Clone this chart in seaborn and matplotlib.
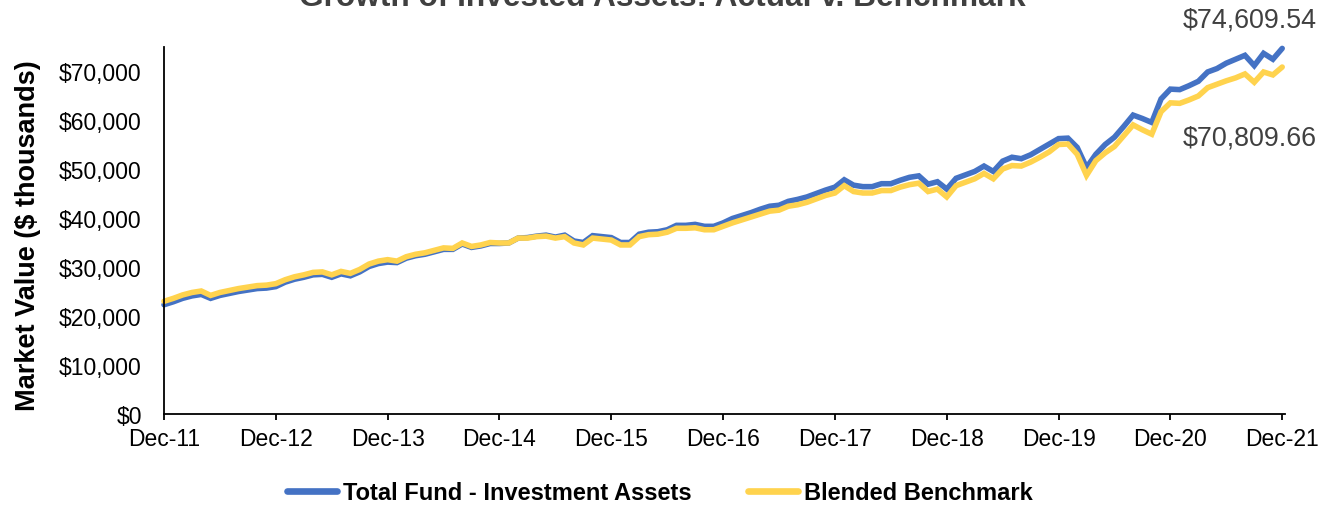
import numpy as np
import pandas as pd
import matplotlib
matplotlib.use("Agg")
import matplotlib.pyplot as plt
import seaborn as sns

# Month-end market values, $ thousands, Dec-2011 through Dec-2021
fund_values = [
    22300, 22900, 23600, 24100, 24400, 23600, 24200, 24600, 25000, 25300, 25600, 25700,
    26000, 26900, 27500, 27900, 28400, 28500, 27900, 28600, 28200, 29000, 30100, 30700,
    31000, 30900, 31800, 32300, 32600, 33100, 33600, 33600, 34700, 34000, 34300, 34800,
    34800, 34900, 35900, 36000, 36300, 36500, 36100, 36500, 35300, 35000, 36400, 36200,
    36000, 35000, 35000, 36700, 37100, 37200, 37600, 38500, 38500, 38700, 38300, 38300,
    39000, 39900, 40500, 41100, 41800, 42400, 42600, 43400, 43800, 44300, 45000, 45700,
    46300, 47800, 46700, 46400, 46400, 47000, 47000, 47700, 48300, 48600, 46900, 47400,
    45900, 48100, 48800, 49500, 50600, 49500, 51600, 52400, 52100, 52900, 54000, 55100,
    56200, 56300, 54400, 50300, 53000, 55000, 56500, 58700, 61000, 60300, 59500, 64300,
    66300, 66200, 67000, 67900, 69800, 70500, 71600, 72400, 73200, 71100, 73600, 72400,
    74609.54,
]
benchmark_values = [
    23000, 23600, 24300, 24800, 25100, 24200, 24800, 25200, 25600, 25900, 26200, 26300,
    26600, 27400, 28000, 28400, 28900, 29000, 28400, 29100, 28700, 29500, 30600, 31200,
    31500, 31200, 32100, 32600, 32900, 33400, 33900, 33800, 34900, 34200, 34500, 35000,
    34900, 34900, 35900, 35900, 36200, 36300, 35900, 36200, 34900, 34500, 35900, 35700,
    35500, 34500, 34500, 36200, 36600, 36700, 37100, 37900, 37900, 38000, 37600, 37600,
    38300, 39000, 39600, 40200, 40800, 41400, 41600, 42400, 42700, 43200, 43900, 44600,
    45100, 46600, 45400, 45100, 45100, 45600, 45600, 46300, 46800, 47100, 45400, 45900,
    44300, 46600, 47300, 48000, 49100, 48000, 50000, 50700, 50600, 51400, 52400, 53500,
    55000, 55100, 53000, 48700, 51700, 53300, 54600, 56800, 59000, 58000, 57100, 61700,
    63500, 63400, 64100, 64900, 66600, 67300, 68000, 68600, 69400, 67700, 69800, 69200,
    70809.66,
]
series_names = ["Total Fund - Investment Assets", "Blended Benchmark"]
series_colors = ["#4472C4", "#FFD34E"]
tick_labels = ["Dec-11", "Dec-12", "Dec-13", "Dec-14", "Dec-15", "Dec-16",
               "Dec-17", "Dec-18", "Dec-19", "Dec-20", "Dec-21"]
y_ticks = [0, 10000, 20000, 30000, 40000, 50000, 60000, 70000]

months = np.arange(len(fund_values))
df = pd.DataFrame({
    "month": np.concatenate([months, months]),
    "value": fund_values + benchmark_values,
    "series": [series_names[0]] * len(months) + [series_names[1]] * len(months),
})

sns.set_theme(style="white")
plt.rcParams["font.family"] = ["Liberation Sans", "DejaVu Sans"]

W, H = 1334, 506
fig = plt.figure(figsize=(W / 100, H / 100), dpi=100)
ax = fig.add_axes([164 / W, (H - 415) / H, 1121 / W, 367.5 / H])

sns.lineplot(data=df, x="month", y="value", hue="series",
             palette=dict(zip(series_names, series_colors)),
             linewidth=4.0, legend=False, ax=ax, sort=False)
for line in ax.get_lines():
    line.set_solid_joinstyle("miter")
    line.set_clip_on(False)

ax.set_xlim(0, 120.3)
ax.set_ylim(0, 75000)
ax.set_xticks(np.arange(0, 121, 12))
ax.set_xticklabels(tick_labels)
ax.set_yticks(y_ticks)
ax.set_yticklabels([f"${v:,.0f}" for v in y_ticks])
ax.set_xlabel("")

for side in ["top", "right"]:
    ax.spines[side].set_visible(False)
for side in ["left", "bottom"]:
    ax.spines[side].set_color("black")
    ax.spines[side].set_linewidth(1.3)

ax.tick_params(axis="x", direction="out", length=4.5, width=1.3, color="black",
               labelsize=16.5, labelcolor="black", pad=5, bottom=True)
ax.tick_params(axis="y", length=0, labelsize=16.5, labelcolor="black", pad=16)

ax.set_ylabel("Market Value ($ thousands)", fontsize=19.5, fontweight="bold", color="black")
ax.yaxis.set_label_coords(-0.121, 0.487)
ax.yaxis.label.set_verticalalignment("center")

fig.text(662 / W, 1 - 6 / H, "Growth of Invested Assets: Actual v. Benchmark",
         ha="center", va="baseline", fontsize=22.8, fontweight="bold", color="#404040")

# End-of-period values
for vals, dy in [(fund_values, 29), (benchmark_values, -70)]:
    ax.annotate(f"${vals[-1]:,.2f}", xy=(months[-1], vals[-1]),
                xytext=(35, dy), textcoords="offset pixels",
                ha="right", va="center", fontsize=19.4, color="#404040",
                annotation_clip=False)

handles = [plt.Line2D([], [], color=c, linewidth=4.8) for c in series_colors]
leg = fig.legend(handles, series_names, loc="center", bbox_to_anchor=(660 / W, 12 / H),
                 ncol=2, frameon=False, handlelength=2.1, handletextpad=0.25,
                 columnspacing=2.4, prop={"size": 17, "weight": "bold"})
for t in leg.get_texts():
    t.set_color("black")

fig.savefig("out.png", dpi=100)
